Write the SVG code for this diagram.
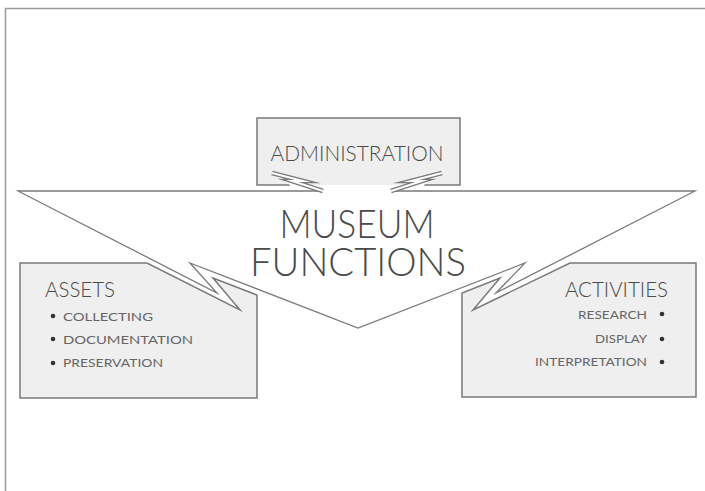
<svg xmlns="http://www.w3.org/2000/svg" width="705" height="491" viewBox="0 0 705 491">
<style>
.ln{fill:none;stroke:#7a7a7a;stroke-width:1.3;stroke-linejoin:miter;stroke-miterlimit:20}
.box{fill:#efefef;stroke:#7a7a7a;stroke-width:1.5;stroke-miterlimit:20}
.t{font-family:Lato,"Open Sans","DejaVu Sans",sans-serif;font-weight:300;fill:#4a4a4a}
.b{font-family:Lato,"Open Sans","DejaVu Sans",sans-serif;fill:#666;font-size:12px}
.dot{fill:#333}
.dbl{fill:none;stroke:#7a7a7a;stroke-width:4.6;stroke-linejoin:miter;stroke-miterlimit:20}
.dbw{fill:none;stroke:#fff;stroke-width:2;stroke-linejoin:miter;stroke-miterlimit:20}
</style>
<rect width="705" height="491" fill="#fff"/>
<path d="M5.5 491V8.5H705" fill="none" stroke="#9a9a9a" stroke-width="1.5"/>
<g id="administration">
<path class="box" d="M290 185H257V118H460V185H424"/>
<text class="t" x="357" y="161" text-anchor="middle" font-size="21" textLength="173" lengthAdjust="spacingAndGlyphs">ADMINISTRATION</text>
</g>
<g id="assets">
<path class="box" d="M20 263H147L240 310L213 278L257 295V398H20Z"/>
<text class="t" x="45" y="297" font-size="22" textLength="70" lengthAdjust="spacingAndGlyphs">ASSETS</text>
<circle class="dot" cx="53" cy="316" r="2.3"/>
<circle class="dot" cx="53" cy="339" r="2.3"/>
<circle class="dot" cx="53" cy="363" r="2.3"/>
<text class="b" x="63" y="321" textLength="90" lengthAdjust="spacingAndGlyphs">COLLECTING</text>
<text class="b" x="63" y="344" textLength="130" lengthAdjust="spacingAndGlyphs">DOCUMENTATION</text>
<text class="b" x="63" y="367" textLength="100" lengthAdjust="spacingAndGlyphs">PRESERVATION</text>
</g>
<g id="activities">
<path class="box" d="M696 263H570L473 310L500 278L462 293V397H696Z"/>
<text class="t" x="668" y="297" font-size="22" text-anchor="end" textLength="103" lengthAdjust="spacingAndGlyphs">ACTIVITIES</text>
<circle class="dot" cx="662" cy="314" r="2.3"/>
<circle class="dot" cx="662" cy="339" r="2.3"/>
<circle class="dot" cx="662" cy="362" r="2.3"/>
<text class="b" x="647" y="319" text-anchor="end" textLength="69" lengthAdjust="spacingAndGlyphs">RESEARCH</text>
<text class="b" x="647" y="343" text-anchor="end" textLength="52" lengthAdjust="spacingAndGlyphs">DISPLAY</text>
<text class="b" x="647" y="366" text-anchor="end" textLength="112" lengthAdjust="spacingAndGlyphs">INTERPRETATION</text>
</g>
<g id="museum-functions">
<path d="M18 191H323L292 181L303 181L272 173L290 185H424L442 173L411 181L422 181L391 191H695L496 293L525 263L358 328L190 263L217 293Z" fill="#fff" stroke="none"/>
<path class="ln" d="M323 191H18L217 293L190 263L358 328L525 263L496 293L695 191H391"/>
<text class="t" x="357" y="238" font-size="40" text-anchor="middle" textLength="155" lengthAdjust="spacingAndGlyphs">MUSEUM</text>
<text class="t" x="358" y="276" font-size="40" text-anchor="middle" textLength="216" lengthAdjust="spacingAndGlyphs">FUNCTIONS</text>
</g>
<g id="connectors">
<path class="dbl" d="M272 173L303 181L292 181L323 191"/>
<path class="dbw" d="M272 173L303 181L292 181L323 191"/>
<path class="dbl" d="M442 173L411 181L422 181L391 191"/>
<path class="dbw" d="M442 173L411 181L422 181L391 191"/>
</g>
</svg>
